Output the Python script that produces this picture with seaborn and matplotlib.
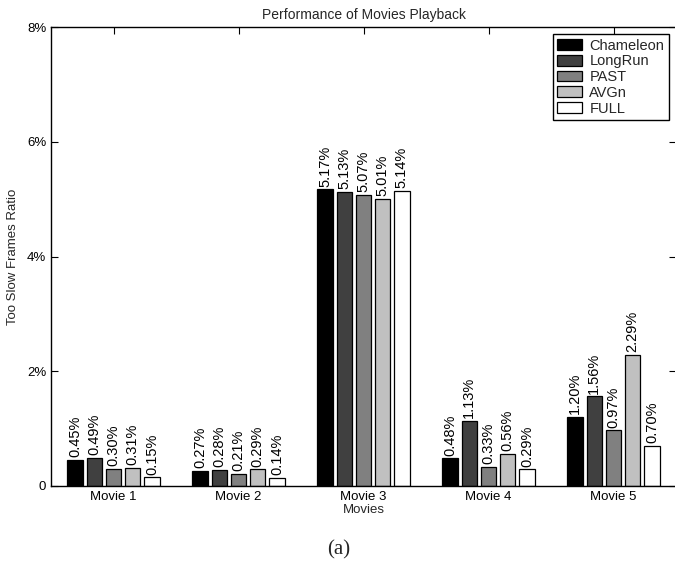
import matplotlib
matplotlib.use("Agg")
import matplotlib.pyplot as plt
import seaborn as sns
import pandas as pd
from matplotlib.ticker import FuncFormatter

movies = ["Movie 1", "Movie 2", "Movie 3", "Movie 4", "Movie 5"]
methods = ["Chameleon", "LongRun", "PAST", "AVGn", "FULL"]
chameleon = [0.45, 0.27, 5.17, 0.48, 1.20]
longrun = [0.49, 0.28, 5.13, 1.13, 1.56]
past = [0.30, 0.21, 5.07, 0.33, 0.97]
avgn = [0.31, 0.29, 5.01, 0.56, 2.29]
full = [0.15, 0.14, 5.14, 0.29, 0.70]
colors = ["#000000", "#404040", "#808080", "#c0c0c0", "#ffffff"]
yticks = [0, 2, 4, 6, 8]

series = [chameleon, longrun, past, avgn, full]
rows = []
for m, vals in zip(methods, series):
    for mv, v in zip(movies, vals):
        rows.append({"Movie": mv, "Method": m, "Ratio": v})
df = pd.DataFrame(rows)

sns.set_style("ticks")
plt.rcParams["font.family"] = ["Liberation Sans", "DejaVu Sans"]

fig = plt.figure(figsize=(6.75, 5.66), dpi=100)
ax = fig.add_axes([51 / 675, 1 - 486 / 566, (676 - 51) / 675, (486 - 27) / 566])

sns.barplot(data=df, x="Movie", y="Ratio", hue="Method", order=movies,
            hue_order=methods, palette=colors, width=0.769, gap=0.2,
            edgecolor="black", linewidth=0.9, saturation=1, ax=ax,
            errorbar=None)

for cont, vals in zip(ax.containers, series):
    ax.bar_label(cont, labels=[f"{v:.2f}%" for v in vals], rotation=90,
                 padding=2, fontsize=10.5, color="black")

ax.set_xlim(-0.5, 4.5)
ax.set_ylim(0, 8)
ax.set_yticks(yticks)
ax.yaxis.set_major_formatter(FuncFormatter(lambda v, p: "0" if v == 0 else f"{v:.0f}%"))
ax.tick_params(direction="in", length=5, width=0.8, labelsize=9.5,
               top=True, right=True, colors="black")
for s in ax.spines.values():
    s.set_visible(True)
    s.set_color("black")
    s.set_linewidth(1.0)

ax.set_title("Performance of Movies Playback", fontsize=10, pad=6)
ax.set_xlabel("Movies", fontsize=9.5, labelpad=1)
ax.set_ylabel("Too Slow Frames Ratio", fontsize=9.5, labelpad=6)

leg = ax.legend(loc="upper right", fontsize=10.5, frameon=True, fancybox=False,
                edgecolor="black", framealpha=1, borderaxespad=0.5,
                handlelength=1.7, handleheight=0.75, handletextpad=0.5,
                labelspacing=0.12, borderpad=0.3)
leg.get_frame().set_linewidth(1.0)

fig.text(339 / 675, 1 - 550 / 566, "(a)", ha="center", va="center",
         fontsize=15, family=["Liberation Serif", "DejaVu Serif"])

fig.savefig("out.png", dpi=100)
